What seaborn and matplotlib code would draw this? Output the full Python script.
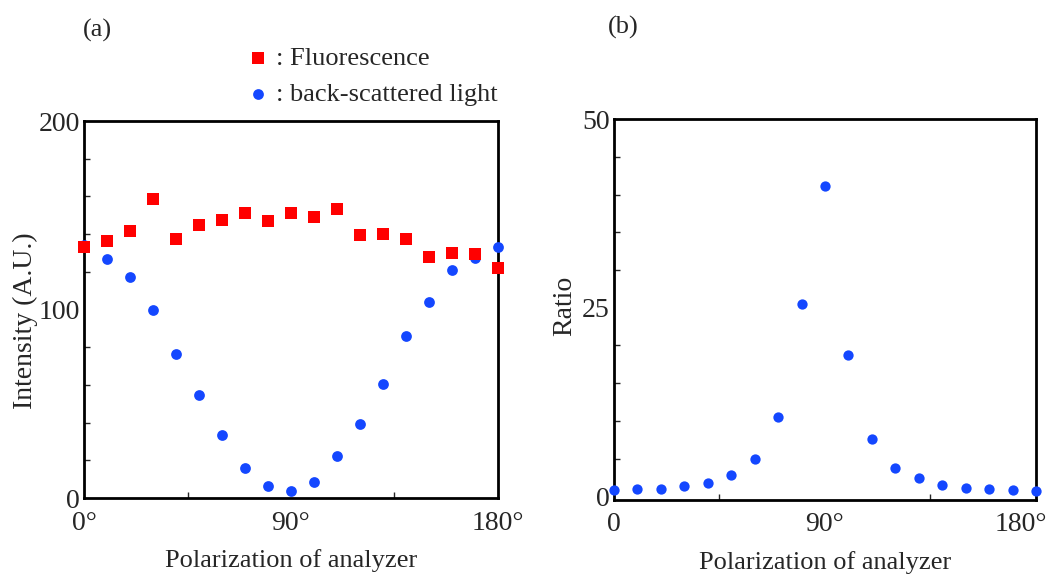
import matplotlib
matplotlib.use("Agg")
import matplotlib.pyplot as plt
import matplotlib.transforms as mtransforms
import pandas as pd
import seaborn as sns
from matplotlib.ticker import MultipleLocator

# polarization angles of the analyzer (degrees)
angles = [0, 10, 20, 30, 40, 50, 60, 70, 80, 90, 100, 110, 120, 130, 140, 150, 160, 170, 180]

fluorescence = [133.3, 136.5, 141.6, 158.6, 137.4, 144.7, 147.5, 151.2, 146.9, 151.0,
                148.9, 153.2, 139.7, 140.1, 137.4, 127.7, 129.8, 129.3, 121.9]
backscatter = [134.0, 126.8, 117.2, 99.6, 76.6, 54.5, 33.2, 16.1, 6.2, 3.7,
               8.7, 22.5, 39.4, 60.5, 85.9, 104.0, 121.0, 127.2, 133.2]
ratio = [0.8, 0.9, 1.0, 1.4, 1.7, 2.8, 4.9, 10.5, 25.5, 41.1,
         18.8, 7.6, 3.8, 2.4, 1.5, 1.1, 0.9, 0.8, 0.7]

xticks_a = ["0°", "90°", "180°"]
xticks_b = ["0", "90°", "180°"]

RED = "#ff0000"
BLUE = "#1447ff"

sns.set_style("ticks")
plt.rcParams["font.family"] = ["Liberation Serif", "DejaVu Serif"]

df = pd.DataFrame({"angle": angles, "fluo": fluorescence, "back": backscatter, "ratio": ratio})

fig = plt.figure(figsize=(10.49, 5.74), dpi=100)
ax1 = fig.add_axes([0.0801, 0.1324, 0.3946, 0.6566])
ax2 = fig.add_axes([0.5853, 0.1290, 0.4023, 0.6630])

sns.scatterplot(data=df, x="angle", y="back", ax=ax1, color=BLUE, marker="o",
                s=60, linewidth=0, label=": back-scattered light", zorder=3, clip_on=False)
sns.scatterplot(data=df, x="angle", y="fluo", ax=ax1, color=RED, marker="s",
                s=75, linewidth=0, label=": Fluorescence", zorder=4, clip_on=False)
sns.scatterplot(data=df, x="angle", y="ratio", ax=ax2, color=BLUE, marker="o",
                s=55, linewidth=0, zorder=3, clip_on=False, legend=False)

ax1.set_xlim(0, 180)
ax1.set_ylim(0, 200)
ax1.set_yticks([0, 100, 200])
ax1.yaxis.set_minor_locator(MultipleLocator(20))
ax1.set_ylabel("Intensity (A.U.)", fontsize=20)
ax1.yaxis.set_label_coords(-0.112, 0.47)
ax1.set_xticks([0, 90, 180])
ax1.set_xticklabels(xticks_a)

ax2.set_xlim(0, 180)
ax2.set_ylim(-0.5, 50)
ax2.set_yticks([0, 25, 50])
ax2.yaxis.set_minor_locator(MultipleLocator(5))
ax2.set_ylabel("Ratio", fontsize=20)
ax2.yaxis.set_label_coords(-0.088, 0.51)
ax2.set_xticks([0, 90, 180])
ax2.set_xticklabels(xticks_b)

for ax in (ax1, ax2):
    ax.xaxis.set_minor_locator(MultipleLocator(45))
    ax.set_xlabel("Polarization of analyzer", fontsize=19, labelpad=10)
    ax.tick_params(axis="x", which="major", direction="in", length=0,
                   labelsize=20, pad=9)
    ax.tick_params(axis="y", which="major", direction="in", length=0,
                   labelsize=20, pad=3)
    ax.tick_params(axis="both", which="minor", direction="in", length=4, width=1)
    for sp in ax.spines.values():
        sp.set_linewidth(2)
        sp.set_color("black")

# keep the last tick label of panel (b) inside the figure
last = ax2.get_xticklabels()[-1]
last.set_transform(last.get_transform() +
                   mtransforms.ScaledTranslation(-15 / 100, 0, fig.dpi_scale_trans))

ax1.text(-0.003, 1.21, "(a)", transform=ax1.transAxes, fontsize=19, ha="left", va="bottom")
ax2.text(-0.015, 1.21, "(b)", transform=ax2.transAxes, fontsize=19, ha="left", va="bottom")

# legend above panel (a), squares first
handles, labels = ax1.get_legend_handles_labels()
ax1.legend(handles[::-1], labels[::-1], loc="lower left", bbox_to_anchor=(0.33, 0.985),
           frameon=False, fontsize=19, handletextpad=0.1, labelspacing=0.45,
           handlelength=1.2, borderpad=0.3, markerscale=1.0)

fig.savefig("out.png", dpi=100)
